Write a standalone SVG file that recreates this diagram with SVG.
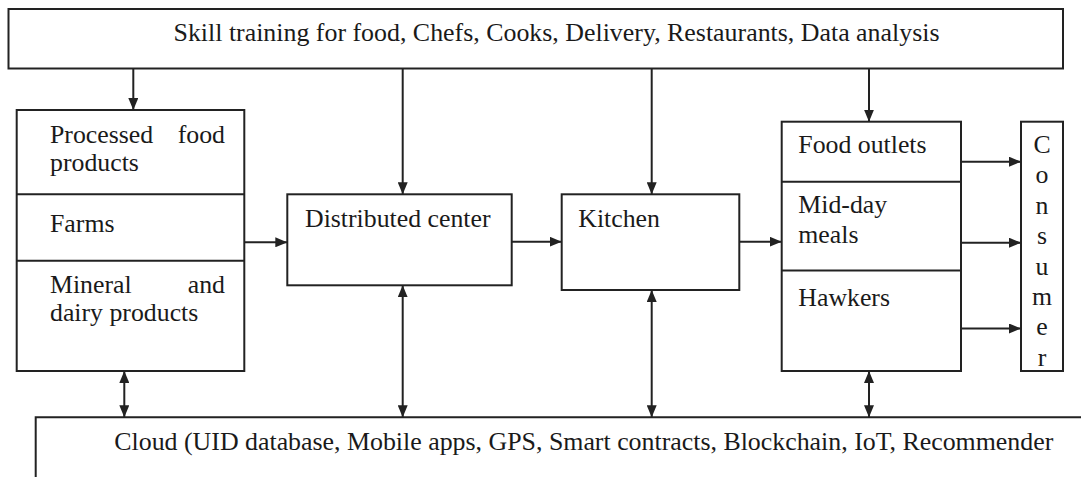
<svg xmlns="http://www.w3.org/2000/svg" width="1081" height="477" viewBox="0 0 1081 477">
  <style>
    .box { fill: #ffffff; stroke: #222222; stroke-width: 2; }
    .div { stroke: #222222; stroke-width: 2; fill: none; }
    .lbl { font-family: 'Liberation Serif', 'Times New Roman', serif; font-size: 25.8px; fill: #1a1a1a; }
    .end { text-anchor: end; }
    .mid { text-anchor: middle; }
    .wire { stroke: #222222; stroke-width: 2; fill: none; }
    .one { marker-end: url(#head); }
    .two { marker-start: url(#tail); marker-end: url(#head); }
  </style>
  <defs>
    <marker id="head" viewBox="0 0 12 10" refX="12" refY="5" markerWidth="12" markerHeight="10" markerUnits="userSpaceOnUse" orient="auto">
      <path d="M0,0 L12,5 L0,10 Z" fill="#222222"/>
    </marker>
    <marker id="tail" viewBox="0 0 12 10" refX="0" refY="5" markerWidth="12" markerHeight="10" markerUnits="userSpaceOnUse" orient="auto">
      <path d="M12,0 L0,5 L12,10 Z" fill="#222222"/>
    </marker>
  </defs>

  <rect width="1081" height="477" fill="#ffffff"/>

  <!-- training layer across the top -->
  <g id="skill-training">
    <rect class="box" x="8.5" y="9" width="1054.5" height="59.5"/>
    <text class="lbl" x="173.5" y="40.7" textLength="766" lengthAdjust="spacingAndGlyphs">Skill training for food, Chefs, Cooks, Delivery, Restaurants, Data analysis</text>
  </g>

  <!-- sources: stacked three-part box -->
  <g id="sources">
    <rect class="box" x="16.7" y="110" width="227.6" height="261"/>
    <line class="div" x1="16.7" y1="194.3" x2="244.3" y2="194.3"/>
    <line class="div" x1="16.7" y1="260.7" x2="244.3" y2="260.7"/>
    <text class="lbl" x="50" y="142.7">Processed</text>
    <text class="lbl end" x="225" y="142.7">food</text>
    <text class="lbl" x="50" y="171.2">products</text>
    <text class="lbl" x="50" y="231.7">Farms</text>
    <text class="lbl" x="50" y="293.3">Mineral</text>
    <text class="lbl end" x="225" y="293.3">and</text>
    <text class="lbl" x="50" y="320.7">dairy products</text>
  </g>

  <g id="distributed-center">
    <rect class="box" x="287.3" y="194.3" width="224.4" height="91"/>
    <text class="lbl" x="305" y="226.7">Distributed center</text>
  </g>

  <g id="kitchen">
    <rect class="box" x="561.7" y="194.3" width="177.6" height="95.7"/>
    <text class="lbl" x="578.3" y="226.7">Kitchen</text>
  </g>

  <!-- outlets: stacked three-part box -->
  <g id="outlets">
    <rect class="box" x="781.7" y="121.7" width="179.3" height="249.3"/>
    <line class="div" x1="781.7" y1="181.7" x2="961" y2="181.7"/>
    <line class="div" x1="781.7" y1="270.5" x2="961" y2="270.5"/>
    <text class="lbl" x="798.3" y="153.3">Food outlets</text>
    <text class="lbl" x="798.3" y="213.3">Mid-day</text>
    <text class="lbl" x="798.3" y="242.7">meals</text>
    <text class="lbl" x="798.3" y="306">Hawkers</text>
  </g>

  <!-- consumer, lettered vertically -->
  <g id="consumer">
    <rect class="box" x="1021" y="121.7" width="42" height="249.3"/>
    <text class="lbl mid" x="1042" y="153">C</text>
    <text class="lbl mid" x="1042" y="183.4">o</text>
    <text class="lbl mid" x="1042" y="213.8">n</text>
    <text class="lbl mid" x="1042" y="244.2">s</text>
    <text class="lbl mid" x="1042" y="274.6">u</text>
    <text class="lbl mid" x="1042" y="305">m</text>
    <text class="lbl mid" x="1042" y="335.4">e</text>
    <text class="lbl mid" x="1042" y="365.8">r</text>
  </g>

  <!-- cloud layer, running off the right and bottom edges -->
  <g id="cloud">
    <path class="div" d="M35.7,477 L35.7,417.3 L1081,417.3"/>
    <text class="lbl" x="114.3" y="450" textLength="939" lengthAdjust="spacingAndGlyphs">Cloud (UID database, Mobile apps, GPS, Smart contracts, Blockchain, IoT, Recommender</text>
  </g>

  <g id="connectors">
    <!-- training feeds -->
    <line class="wire one" x1="133.3" y1="68.5" x2="133.3" y2="110"/>
    <line class="wire one" x1="402.7" y1="68.5" x2="402.7" y2="194.3"/>
    <line class="wire one" x1="651.7" y1="68.5" x2="651.7" y2="194.3"/>
    <line class="wire one" x1="869" y1="68.5" x2="869" y2="121.7"/>
    <!-- supply chain flow -->
    <line class="wire one" x1="244.3" y1="242.3" x2="287.3" y2="242.3"/>
    <line class="wire one" x1="511.7" y1="241.7" x2="561.7" y2="241.7"/>
    <line class="wire one" x1="739.3" y1="241.7" x2="781.7" y2="241.7"/>
    <!-- outlets to consumer -->
    <line class="wire one" x1="961" y1="161.7" x2="1021" y2="161.7"/>
    <line class="wire one" x1="961" y1="242.7" x2="1021" y2="242.7"/>
    <line class="wire one" x1="961" y1="328.5" x2="1021" y2="328.5"/>
    <!-- cloud links -->
    <line class="wire two" x1="124.3" y1="371" x2="124.3" y2="417.3"/>
    <line class="wire two" x1="402.7" y1="285.3" x2="402.7" y2="417.3"/>
    <line class="wire two" x1="651.7" y1="290" x2="651.7" y2="417.3"/>
    <line class="wire two" x1="869" y1="371" x2="869" y2="417.3"/>
  </g>
</svg>
